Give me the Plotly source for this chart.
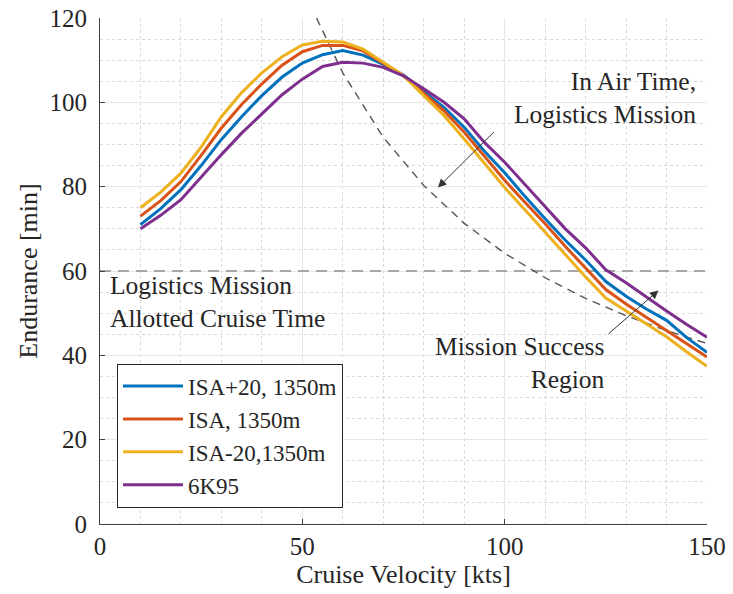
import plotly.graph_objects as go

velocity = [10, 15, 20, 25, 30, 35, 40, 45, 50, 55, 60, 65, 70, 75, 80, 85, 90, 95,
            100, 105, 110, 115, 120, 125, 130, 135, 140, 145, 150]

isa_p20 = [71.0, 74.8, 79.3, 85.0, 91.2, 96.6, 101.6, 106.0, 109.3, 111.3, 112.3, 111.2, 109.0,
           106.5, 102.6, 98.8, 94.1, 88.4, 83.3, 77.7, 72.4, 67.3, 62.6, 57.5, 54.0, 51.0,
           48.3, 44.2, 40.7]
isa = [73.0, 76.7, 81.2, 87.4, 93.9, 99.5, 104.4, 108.8, 112.0, 113.5, 113.5, 112.2, 109.3,
       106.3, 102.2, 98.0, 92.9, 87.2, 81.5, 76.3, 71.2, 65.8, 60.8, 55.6, 52.2, 49.0,
       46.0, 42.7, 39.6]
isa_m20 = [75.0, 78.7, 83.2, 89.4, 96.6, 102.3, 107.0, 110.8, 113.6, 114.5, 114.3, 112.6, 109.5,
           106.3, 101.6, 96.9, 91.3, 85.5, 79.8, 74.5, 69.2, 63.7, 58.6, 53.6, 50.5, 47.3,
           44.4, 40.8, 37.4]
k6k95 = [70.0, 73.2, 76.9, 82.3, 87.6, 92.7, 97.3, 101.8, 105.5, 108.5, 109.5, 109.3, 108.3,
         106.3, 103.2, 100.0, 96.1, 90.5, 85.8, 80.5, 75.3, 70.0, 65.5, 60.3, 57.2, 53.8,
         50.5, 47.3, 44.3]

series_names = ["ISA+20, 1350m", "ISA, 1350m", "ISA-20,1350m", "6K95"]
series_colors = ["#0072BD", "#D95319", "#EDB120", "#7E2F8E"]

# In-air time curve (logistics mission)
air_v = [53.5, 60, 70, 80, 90, 100, 110, 120, 130, 140, 150]
air_t = [120.0, 107.0, 91.7, 80.3, 71.3, 64.2, 58.4, 53.5, 49.4, 45.9, 42.8]

# Allotted cruise time
allot_v = [0, 150]
allot_t = [60, 60]

FONT = "Liberation Serif, DejaVu Serif, serif"
TXT = "#262626"

fig = go.Figure()

fig.add_trace(go.Scatter(x=allot_v, y=allot_t, mode="lines", showlegend=False,
                         line=dict(color="#a6a6a6", width=2, dash="11px,7px"), hoverinfo="skip"))
fig.add_trace(go.Scatter(x=air_v, y=air_t, mode="lines", showlegend=False,
                         line=dict(color="#555555", width=1.4, dash="8px,6px"), hoverinfo="skip"))

for name, ys, c in zip(series_names, [isa_p20, isa, isa_m20, k6k95], series_colors):
    fig.add_trace(go.Scatter(x=velocity, y=ys, mode="lines", name=name, legendgroup=name,
                             line=dict(color=c, width=3)))

ann_font = dict(family=FONT, size=25.5, color=TXT)
fig.add_annotation(x=147.8, y=101, xref="x", yref="y", text="In Air Time,<br>Logistics Mission",
                   showarrow=False, xanchor="right", yanchor="middle", align="right", font=ann_font)
fig.add_annotation(x=2, y=52.7, xref="x", yref="y", text="Logistics Mission<br>Allotted Cruise Time",
                   showarrow=False, xanchor="left", yanchor="middle", align="left", font=ann_font)
fig.add_annotation(x=125.3, y=38.3, xref="x", yref="y", text="Mission Success<br>Region",
                   showarrow=False, xanchor="right", yanchor="middle", align="right", font=ann_font)

fig.add_annotation(x=83.5, y=79.8, ax=97.7, ay=93.3, xref="x", yref="y", axref="x", ayref="y",
                   text="", showarrow=True, arrowhead=2, arrowsize=1.7, arrowwidth=1,
                   arrowcolor="#333333")
fig.add_annotation(x=138, y=55.4, ax=125.3, ay=44.8, xref="x", yref="y", axref="x", ayref="y",
                   text="", showarrow=True, arrowhead=2, arrowsize=1.7, arrowwidth=1,
                   arrowcolor="#333333")

axis_common = dict(
    showline=True, linecolor="#404040", linewidth=1,
    ticks="inside", ticklen=5, tickcolor="#404040",
    showgrid=True, gridcolor="#e6e6e6", gridwidth=1,
    zeroline=False, automargin=False, ticklabeloverflow="allow",
    tickfont=dict(family=FONT, size=25, color=TXT),
    title_font=dict(family=FONT, size=26, color=TXT),
)

fig.update_xaxes(range=[0, 150], dtick=50, tick0=0, title_text="Cruise Velocity [kts]",
                 title_standoff=2, ticklabelstandoff=0,
                 minor=dict(dtick=10, showgrid=True, gridcolor="#d9d9d9", griddash="dot",
                            gridwidth=1, ticks=""),
                 **axis_common)
fig.update_yaxes(range=[0, 120], dtick=20, tick0=0, title_text="Endurance [min]",
                 title_standoff=4, ticklabelstandoff=7,
                 minor=dict(dtick=5, showgrid=True, gridcolor="#d9d9d9", griddash="dot",
                            gridwidth=1, ticks=""),
                 **axis_common)

fig.update_layout(
    width=733, height=594,
    margin=dict(l=100, r=26, t=18, b=70),
    plot_bgcolor="white", paper_bgcolor="white",
    legend=dict(x=0.028, y=0.317, xanchor="left", yanchor="top",
                bgcolor="white", bordercolor="#262626", borderwidth=1,
                font=dict(family=FONT, size=23, color=TXT),
                itemwidth=60, tracegroupgap=0),
)

fig.write_html("out.html", config={"displayModeBar": False},
               post_script="document.body.style.margin='0';")
